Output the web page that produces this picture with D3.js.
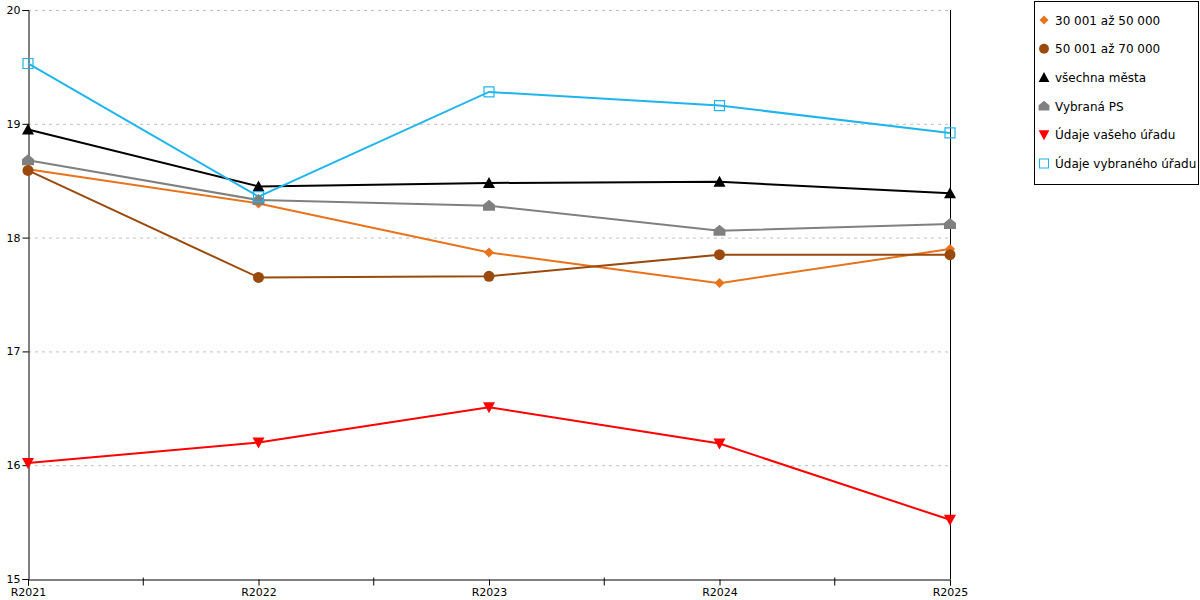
<!DOCTYPE html>
<html>
<head>
<meta charset="utf-8">
<script src="https://cdn.jsdelivr.net/npm/d3@7"></script>
<style>
  body { margin: 0; background: #fff; }
  text { font-family: "DejaVu Sans", sans-serif; fill: #000; }
</style>
</head>
<body>
<svg id="chart" width="1200" height="600"></svg>
<script>
const categories = ['R2021', 'R2022', 'R2023', 'R2024', 'R2025'];
const yTicks = [15, 16, 17, 18, 19, 20];

const s30to50 = [18.60, 18.30, 17.87, 17.60, 17.90];
const s50to70 = [18.59, 17.65, 17.66, 17.85, 17.85];
const allCities = [18.95, 18.45, 18.48, 18.49, 18.39];
const chosenPS = [18.68, 18.33, 18.28, 18.06, 18.12];
const yourOffice = [16.02, 16.20, 16.51, 16.19, 15.52];
const chosenOffice = [19.53, 18.36, 19.28, 19.16, 18.92];

const SERIES = [
  { name: '30 001 až 50 000', values: s30to50, color: '#e8731c', mark: 'diamond' },
  { name: '50 001 až 70 000', values: s50to70, color: '#9a4a0c', mark: 'circle' },
  { name: 'všechna města', values: allCities, color: '#000000', mark: 'triangle' },
  { name: 'Vybraná PS', values: chosenPS, color: '#808080', mark: 'house' },
  { name: 'Údaje vašeho úřadu', values: yourOffice, color: '#ff0000', mark: 'down' },
  { name: 'Údaje vybraného úřadu', values: chosenOffice, color: '#1fb5ec', mark: 'square' }
];

const LEFT = 28, RIGHT = 950, TOP = 10, BOTTOM = 579;

const svg = d3.select('#chart');

const x = d3.scalePoint().domain(categories).range([LEFT, RIGHT]);
const y = d3.scaleLinear().domain([15, 20]).range([BOTTOM, TOP]);

/**
 * Gridlines
 */
svg.append('g')
  .selectAll('line')
  .data(yTicks.slice(1))
  .join('line')
  .attr('x1', LEFT).attr('x2', RIGHT)
  .attr('y1', d => y(d) + 0.5).attr('y2', d => y(d) + 0.5)
  .attr('stroke', '#c0c0c0')
  .attr('stroke-dasharray', '3,4');

/**
 * Axes
 */
const yAxis = svg.append('g')
  .attr('transform', 'translate(' + (LEFT + 0.5) + ',0)')
  .call(d3.axisLeft(y).tickValues(yTicks).tickFormat(d3.format('d')).tickSize(6).tickPadding(2));
yAxis.selectAll('text').style('font-size', '11px');

svg.append('line')
  .attr('x1', RIGHT + 0.5).attr('x2', RIGHT + 0.5)
  .attr('y1', TOP).attr('y2', BOTTOM)
  .attr('stroke', '#000');

const xAxis = svg.append('g')
  .attr('transform', 'translate(0,' + (BOTTOM + 0.5) + ')')
  .call(d3.axisBottom(x).tickSizeOuter(0).tickSize(6).tickPadding(3));
xAxis.selectAll('text').style('font-size', '11px');

// ticks between categories
const mids = categories.slice(1).map((c, i) => (x(categories[i]) + x(c)) / 2);
xAxis.selectAll('.mid')
  .data(mids)
  .join('line')
  .attr('class', 'mid')
  .attr('x1', d => d).attr('x2', d => d)
  .attr('y1', -2).attr('y2', 6)
  .attr('stroke', '#000');

svg.selectAll('.domain').attr('stroke', '#000');

/**
 * Marker shapes
 */
function markPath(type) {
  switch (type) {
    case 'diamond': return 'M0,-5L5,0L0,5L-5,0Z';
    case 'triangle': return 'M0,-6L6,5L-6,5Z';
    case 'down': return 'M-6,-5L6,-5L0,6Z';
    case 'house': return 'M0,-6L6,-1L6,5L-6,5L-6,-1Z';
    case 'square': return 'M-5,-5L5,-5L5,5L-5,5Z';
  }
  return null;
}

function drawMark(sel, s) {
  if (s.mark === 'circle') {
    sel.append('circle').attr('r', 5.5).attr('fill', s.color);
  } else if (s.mark === 'square') {
    sel.append('path').attr('d', markPath('square'))
      .attr('fill', 'none').attr('stroke', s.color).attr('stroke-width', 1.2);
  } else {
    sel.append('path').attr('d', markPath(s.mark)).attr('fill', s.color);
  }
}

/**
 * Lines and markers
 */
const line = d3.line()
  .x((d, i) => x(categories[i]))
  .y(d => y(d));

SERIES.forEach(function(s) {
  svg.append('path')
    .attr('d', line(s.values))
    .attr('fill', 'none')
    .attr('stroke', s.color)
    .attr('stroke-width', 2);
});

SERIES.forEach(function(s) {
  s.values.forEach(function(v, i) {
    const g = svg.append('g')
      .attr('transform', 'translate(' + x(categories[i]) + ',' + y(v) + ')');
    drawMark(g, s);
  });
});

/**
 * Legend
 */
const legend = svg.append('g');
legend.append('rect')
  .attr('x', 1034.5).attr('y', 1.5)
  .attr('width', 164).attr('height', 183)
  .attr('fill', '#fff').attr('stroke', '#000');

SERIES.forEach(function(s, i) {
  const cy = 20 + i * 28.7;
  const g = legend.append('g')
    .attr('transform', 'translate(1044,' + cy + ') scale(0.9)');
  drawMark(g, s);
  legend.append('text')
    .attr('x', 1055).attr('y', cy + 4.5)
    .style('font-size', '12px')
    .text(s.name);
});
</script>
</body>
</html>
